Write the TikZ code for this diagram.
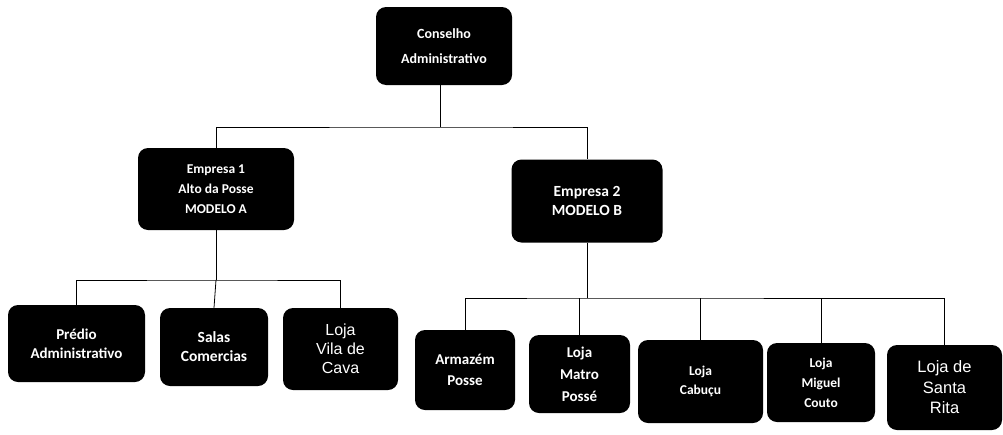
\documentclass[tikz,border=0pt]{standalone}
\usepackage{fontspec}
\setmainfont{Carlito}
\newfontfamily\arialf{Liberation Sans}
\newcommand{\bfs}[2]{\bfseries\fontsize{#1}{#2}\selectfont}
\begin{document}
\begin{tikzpicture}[x=1pt,y=-1pt,
  box/.style={fill=black, text=white, rounded corners=10pt, align=center,
    inner sep=2pt, font=\bfs{12}{20}},
  boxa/.style={box, font=\arialf\fontsize{16.5}{20.5}\selectfont},
  conn/.style={draw=black, line width=0.8pt}]
\useasboundingbox (0,0) rectangle (1003,434);
% top
\node[box, minimum width=136pt, minimum height=78pt, font=\bfs{14}{25}] (cons) at (444,46) {Conselho\\Administrativo};
\node[box, minimum width=156pt, minimum height=82pt, font=\bfs{13.5}{20}] (emp1) at (216,189) {Empresa 1\\Alto da Posse\\MODELO A};
\node[box, minimum width=151pt, minimum height=83pt, font=\bfs{15.5}{19}] (emp2) at (587,201) {Empresa 2\\MODELO B};
% children of Empresa 1
\node[box, minimum width=137pt, minimum height=77pt, font=\bfs{15}{19}] (predio) at (76.5,343.5) {Prédio\\Administrativo};
\node[box, minimum width=108pt, minimum height=78pt, font=\bfs{15.5}{19}] (salas) at (214,347) {Salas\\Comercias};
\node[boxa, minimum width=115pt, minimum height=82pt, font=\arialf\fontsize{16}{19}\selectfont] (vila) at (340.5,349) {Loja\\Vila de\\Cava};
% children of Empresa 2
\node[box, minimum width=100pt, minimum height=80pt, font=\bfs{15}{21}] (armazem) at (465,370) {Armazém\\Posse};
\node[box, minimum width=101pt, minimum height=78pt, font=\bfs{15}{22}] (matro) at (579.5,374) {Loja\\Matro\\Possé};
\node[box, minimum width=125pt, minimum height=83pt, font=\bfs{13.5}{19}] (cabucu) at (700.5,381.5) {Loja\\Cabuçu};
\node[box, minimum width=108pt, minimum height=79pt, font=\bfs{13.5}{20}] (miguel) at (821,382.5) {Loja\\Miguel\\Couto};
\node[boxa, minimum width=115pt, minimum height=85pt] (rita) at (944.5,387.5) {Loja de\\Santa\\Rita};
% connectors
\coordinate (b0) at (440,127);
\coordinate (b1) at (216,280);
\coordinate (b2) at (587,298);
\draw[conn] (cons.south -| b0) -- (b0);
\draw[conn] (emp1.north) |- (b0) -| (emp2.north);
\draw[conn] (emp1.south) -- (b1);
\draw[conn] (predio.north) |- (b1) -| (vila.north);
\draw[conn] (b1) -- (salas.north);
\draw[conn] (emp2.south) -- (b2);
\draw[conn] (armazem.north) |- (b2) -| (rita.north);
\draw[conn] (matro.north) -- (matro.north |- b2);
\draw[conn] (cabucu.north) -- (cabucu.north |- b2);
\draw[conn] (miguel.north) -- (miguel.north |- b2);
\end{tikzpicture}
\end{document}
